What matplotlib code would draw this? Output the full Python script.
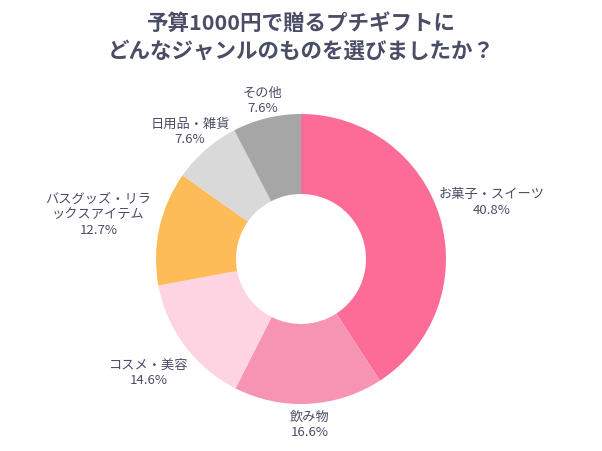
import numpy as np
import matplotlib.pyplot as plt

plt.rcParams["font.family"] = ["Noto Sans CJK JP", "DejaVu Sans"]

TITLE = "予算1000円で贈るプチギフトに\nどんなジャンルのものを選びましたか？"
labels = ["お菓子・スイーツ", "飲み物", "コスメ・美容",
          "バスグッズ・リラ\nックスアイテム", "日用品・雑貨", "その他"]
shares = [40.8, 16.6, 14.6, 12.7, 7.6, 7.6]
colors = ["#FD6B97", "#F794B3", "#FED4E2", "#FEBC59", "#D9D9D9", "#A6A6A6"]

# label distance from centre, in pie radii (layout only)
label_r = [1.37, 1.145, 1.31, 1.43, 1.165, 1.12]

TEXT_COLOR = "#4A4D66"
W, H = 602, 451
CX, CY, R = 301, 259, 145  # pie centre / radius in pixels

fig = plt.figure(figsize=(W / 100, H / 100), dpi=100)
ax = fig.add_axes([0, 0, 1, 1])

wedges, _ = ax.pie(
    shares, colors=colors, startangle=90, counterclock=False,
    radius=1, wedgeprops=dict(width=1 - 65 / 145, linewidth=0),
)

# map axes so that one data unit equals the pie radius in pixels
ax.set_xlim(-CX / R, (W - CX) / R)
ax.set_ylim(-(H - CY) / R, CY / R)
ax.set_aspect("equal")
ax.axis("off")

for w, lab, val, rr in zip(wedges, labels, shares, label_r):
    ang = np.deg2rad((w.theta1 + w.theta2) / 2)
    x, y = rr * np.cos(ang), rr * np.sin(ang)
    ax.text(x, y, f"{lab}\n{val}%", ha="center", va="center",
            multialignment="center", fontsize=9.5, color=TEXT_COLOR,
            linespacing=1.25)

fig.text(0.5, 1 - 37 / H, TITLE, ha="center", va="center", fontsize=15.5,
         fontweight="bold", color=TEXT_COLOR, linespacing=1.4)

fig.savefig("out.png", dpi=100, facecolor="white")
